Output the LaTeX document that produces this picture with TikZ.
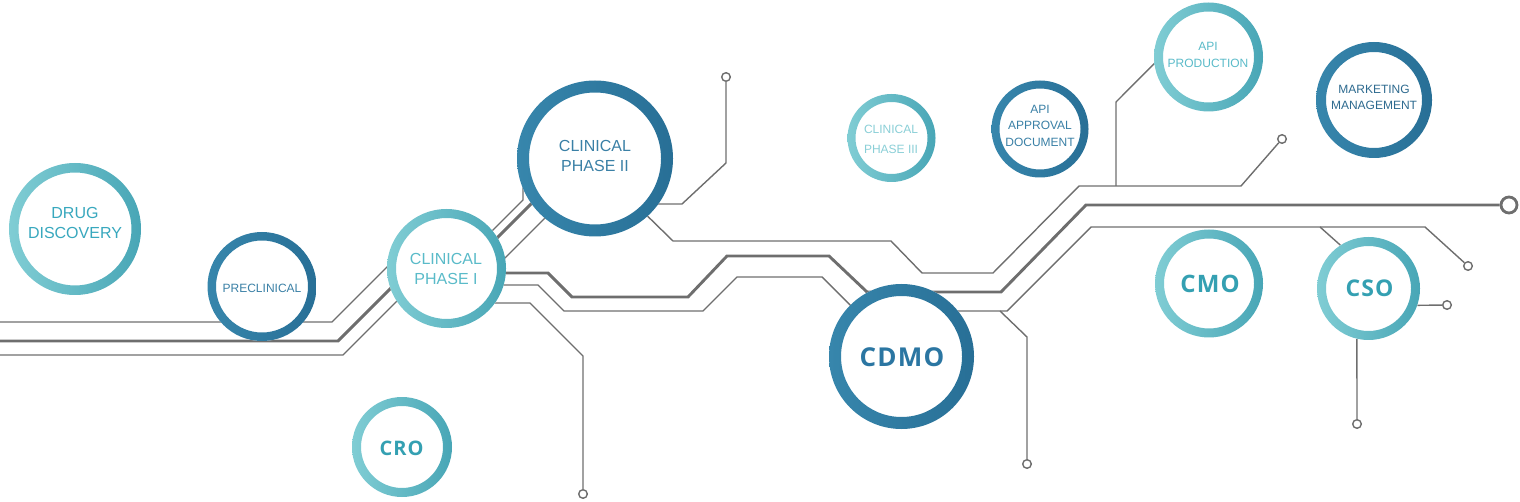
\documentclass[tikz,border=0pt]{standalone}
\usepackage{fontspec}
\setmainfont{Liberation Sans}
\newfontfamily\acrofont[LetterSpace=5.0]{Open Sans}
\usetikzlibrary{backgrounds}

\definecolor{traceGray} {RGB}{110,110,110}
\definecolor{tealLeft}  {RGB}{128,205,212}
\definecolor{tealRight} {RGB}{72,166,182}
\definecolor{blueLeft}  {RGB}{55,134,172}
\definecolor{blueRight} {RGB}{40,111,150}
\definecolor{txtDrug}   {RGB}{56,168,190}
\definecolor{txtLight}  {RGB}{90,187,201}
\definecolor{txtPale}   {RGB}{138,207,215}
\definecolor{txtDeep}   {RGB}{58,128,166}
\definecolor{txtNavy}   {RGB}{45,106,143}
\definecolor{txtCdmo}   {RGB}{43,118,162}
\definecolor{txtAcro}   {RGB}{52,160,178}

\tikzset{
  trace/.style={draw=traceGray,line width=1.4pt},
  tracebold/.style={draw=traceGray,line width=2.9pt},
  viapad/.style={circle,draw=traceGray,line width=1.4pt,fill=white,
                 inner sep=0pt,minimum size=8.6pt},
  endpad/.style={circle,draw=traceGray,line width=2.8pt,fill=white,
                 inner sep=0pt,minimum size=16pt},
  stage/.style={circle,inner sep=0pt,minimum size=#1},
  lbl/.style={align=center,inner sep=0pt},
}

\begin{document}
\begin{tikzpicture}[x=1pt,y=-1pt]
  \useasboundingbox (0,0) rectangle (1520,502);

  % Aneis: nome/x/y/raio/espessura/cor esq./cor dir.
  \foreach \nm/\x/\y/\rad/\wid/\lc/\rc in {
      drug/75/229/66/9.5/tealLeft/tealRight,
      precl/262/286.5/54.5/8.5/blueLeft/blueRight,
      phI/446.5/268.5/59.5/9/tealLeft/tealRight,
      phII/595/158.5/78/12/blueLeft/blueRight,
      phIII/891.5/138/44/8/tealLeft/tealRight,
      apidoc/1040/129/48.5/8/blueLeft/blueRight,
      apiprod/1208.5/57/54.5/9/tealLeft/tealRight,
      mkt/1374/100/58/10/blueLeft/blueRight,
      cdmo/901.5/356.5/72.5/12/blueLeft/blueRight,
      cmo/1209/283.5/54/9/tealLeft/tealRight,
      cso/1368.5/288.5/51.5/9/tealLeft/tealRight,
      cro/402/447/50/9/tealLeft/tealRight}{
    \fill[white] (\x,\y) circle ({\rad*1pt});
    \shade[left color=\lc,right color=\rc,even odd rule]
      (\x,\y) circle ({\rad*1pt}) (\x,\y) circle ({(\rad-\wid)*1pt});
    \node[stage={2*\rad*1pt}] (\nm) at (\x,\y) {};
  }

  % Textos dos aneis
  \node[lbl,txtDrug,font=\fontsize{16}{20}\selectfont] (drugtxt) at (75,223) {DRUG\\DISCOVERY};
  \node[lbl,txtDeep,font=\fontsize{12}{14}\selectfont] (precltxt) at (262,288.5) {PRECLINICAL};
  \node[lbl,txtLight,font=\fontsize{16}{20}\selectfont] (phItxt) at (446,269) {CLINICAL\\PHASE I};
  \node[lbl,txtDeep,font=\fontsize{16}{20}\selectfont] (phIItxt) at (595,156) {CLINICAL\\PHASE II};
  \node[lbl,txtPale,font=\fontsize{12}{20}\selectfont] (phIIItxt) at (891,139) {CLINICAL\\PHASE III};
  \node[lbl,txtDeep,font=\fontsize{12}{16.5}\selectfont] (apidoctxt) at (1040,125.5) {API\\APPROVAL\\DOCUMENT};
  \node[lbl,txtLight,font=\fontsize{12}{17}\selectfont] (apiprodtxt) at (1208,54.5) {API\\PRODUCTION};
  \node[lbl,txtNavy,font=\fontsize{12}{16}\selectfont] (mkttxt) at (1374,97.5) {MARKETING\\MANAGEMENT};
  \node[lbl,txtCdmo,font=\acrofont\bfseries\fontsize{26}{30}\selectfont] (cdmotxt) at (902,357) {CDMO};
  \node[lbl,txtAcro,font=\acrofont\bfseries\fontsize{24}{28}\selectfont] (cmotxt) at (1210,284) {CMO};
  \node[lbl,txtAcro,font=\acrofont\bfseries\fontsize{23}{27}\selectfont] (csotxt) at (1369.5,288) {CSO};
  \node[lbl,txtAcro,font=\acrofont\bfseries\fontsize{20}{24}\selectfont] (crotxt) at (401.5,448) {CRO};

  % Terminais
  \foreach \nm/\x/\y in {padII/726/77, padG/1282/139, padE/1468/266,
      padF/583/494, padJ/1027/464, padCSOr/1447/305, padCSOd/1357/424}
    \node[viapad] (\nm) at (\x,\y) {};
  \node[endpad] (padEnd) at (1509,205) {};

  % Trilhas (atras dos aneis)
  \begin{scope}[on background layer]
    % feixe da esquerda
    \draw[trace] (0,322) -- (332,322) -- (392,262) -- (465,258) -- (523,200) -- (523,185);
    \draw[tracebold] (0,341) -- (338,341) -- (395,284) -- (468,267) -- (545,190);
    \draw[trace] (0,355) -- (343,355) -- (400,298) -- (485,278) -- (560,203);
    % fase I -> CDMO -> direita
    \draw[tracebold] (470,273) -- (548,273) -- (572,297) -- (688,297) -- (727,256)
      -- (829,256) -- (867,292) -- (1001,292) -- (1086,205) -- (padEnd);
    \draw[trace] (470,285) -- (538,285) -- (564,311) -- (703,311) -- (737,277)
      -- (822,277) -- (856,311) -- (1007,311) -- (1091,227) -- (1425,227) -- (padE);
    \draw[trace] (470,303) -- (530,303) -- (583,356) -- (padF);
    % fase II
    \draw[trace] (640,204) -- (682,204) -- (726,163) -- (padII);
    \draw[trace] (630,199) -- (673,241) -- (891,241) -- (922,273) -- (993,273)
      -- (1079,186) -- (1241,186) -- (padG);
    \draw[trace] (1116,186) -- (1116,102) -- (apiprod.187);
    % ramos do CDMO e CSO
    \draw[trace] (1000,311) -- (1027,337) -- (padJ);
    \draw[trace] (1320,227) -- (cso.123);
    \draw[trace] (cso.-19) -- (padCSOr);
    \draw[trace] (cso.-103) -- (padCSOd);
  \end{scope}
\end{tikzpicture}
\end{document}
